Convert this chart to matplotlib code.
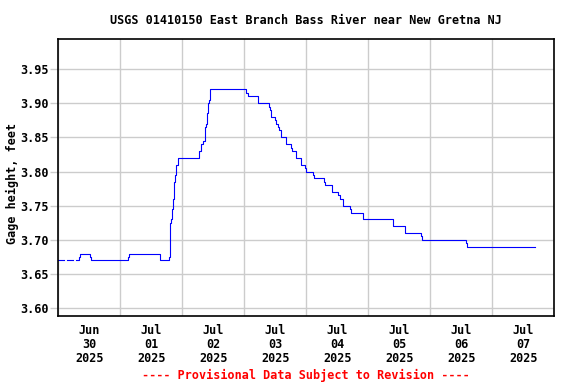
import matplotlib
matplotlib.use('Agg')
import matplotlib.pyplot as plt
import matplotlib.dates as mdates
import numpy as np
import pandas as pd

# hours since 2025-06-30 00:00 (EDT) where the stage changes
hours = [0, 2.2, 3.5, 5.8, 6.7, 8.0, 8.4, 12.2, 12.5, 27.1, 27.5, 39.3,
         42.7, 43.1, 43.4, 43.7, 44.1, 44.5, 44.9, 45.3, 45.7, 46.2,
         54.6, 55.4, 56.0, 56.7, 56.9, 57.3, 57.6, 57.9, 58.5, 58.8,
         72.7, 73.3, 77.4, 81.4, 81.9, 82.5, 84.0, 84.4, 84.9, 85.5,
         86.3, 88.0, 90.1, 90.6, 92.0, 93.8, 95.5, 95.9, 98.7, 99.1,
         102.9, 103.2, 106.1, 108.4, 109.0, 110.1, 113.0, 113.4, 117.8,
         118.1, 129.7, 134.3, 140.5, 140.9, 157.8, 158.2, 184.5]
# gage height, feet (nan = missing record)
stage = [3.67, np.nan, 3.67, np.nan, 3.67, 3.675, 3.68, 3.675, 3.67, 3.675, 3.68, 3.67,
         3.675, 3.695, 3.725, 3.73, 3.745, 3.76, 3.785, 3.795, 3.81, 3.82,
         3.83, 3.84, 3.845, 3.85, 3.865, 3.87, 3.885, 3.90, 3.905, 3.92,
         3.915, 3.91, 3.90, 3.895, 3.89, 3.88, 3.875, 3.87, 3.865, 3.86,
         3.85, 3.84, 3.835, 3.83, 3.82, 3.81, 3.805, 3.80, 3.795, 3.79,
         3.785, 3.78, 3.77, 3.765, 3.76, 3.75, 3.745, 3.74, 3.735,
         3.73, 3.72, 3.71, 3.705, 3.70, 3.695, 3.69, 3.69]

y_ticks = [3.60, 3.65, 3.70, 3.75, 3.80, 3.85, 3.90, 3.95]
title = 'USGS 01410150 East Branch Bass River near New Gretna NJ'
ylabel = 'Gage height, feet'
note = '---- Provisional Data Subject to Revision ----'

start = pd.Timestamp('2025-06-30 00:00')
times = start + pd.to_timedelta(hours, unit='h')

plt.rcParams['font.family'] = ['DejaVu Sans Mono']
plt.rcParams['font.weight'] = 'bold'
fs = 8.5

fig = plt.figure(figsize=(5.76, 3.84), dpi=100)
ax = fig.add_axes([0.1012, 0.1771, 0.9623 - 0.1012, 0.8977 - 0.1771])

ax.plot(times, stage, drawstyle='steps-post', color='#0000ff', lw=0.8)

ax.set_xlim(start, start + pd.Timedelta(days=8))
ax.set_ylim(3.5887, 3.9934)

# grid at midnight, labels at noon
ax.xaxis.set_major_locator(mdates.DayLocator())
ax.xaxis.set_major_formatter(plt.NullFormatter())
ax.xaxis.set_minor_locator(mdates.HourLocator(byhour=12))
ax.xaxis.set_minor_formatter(mdates.DateFormatter('%b\n%d\n%Y'))
ax.tick_params(axis='x', which='both', length=0, pad=6, labelsize=fs)
for lbl in ax.get_xticklabels(minor=True):
    lbl.set_linespacing(1.08)
    lbl.set_fontweight('bold')

ax.set_yticks(y_ticks)
ax.set_yticklabels([f'{v:.2f}' for v in y_ticks], fontsize=fs, fontweight='bold')
ax.tick_params(axis='y', length=6, color='#cccccc', width=1, pad=1)

ax.grid(True, which='major', color='#cccccc', lw=1)
ax.set_axisbelow(True)
for s in ax.spines.values():
    s.set_linewidth(1.2)
    s.set_color('black')

fig.text(306 / 576, 1 - 20 / 384, title, ha='center', va='center', fontsize=fs, fontweight='bold')
fig.text(12 / 576, 1 - 183 / 384, ylabel, rotation=90, ha='center', va='center',
         fontsize=fs, fontweight='bold')
fig.text(305.5 / 576, 1 - 375 / 384, note, ha='center', va='center', fontsize=fs,
         fontweight='bold', color='#ff0000')

fig.savefig('out.png', dpi=100)
